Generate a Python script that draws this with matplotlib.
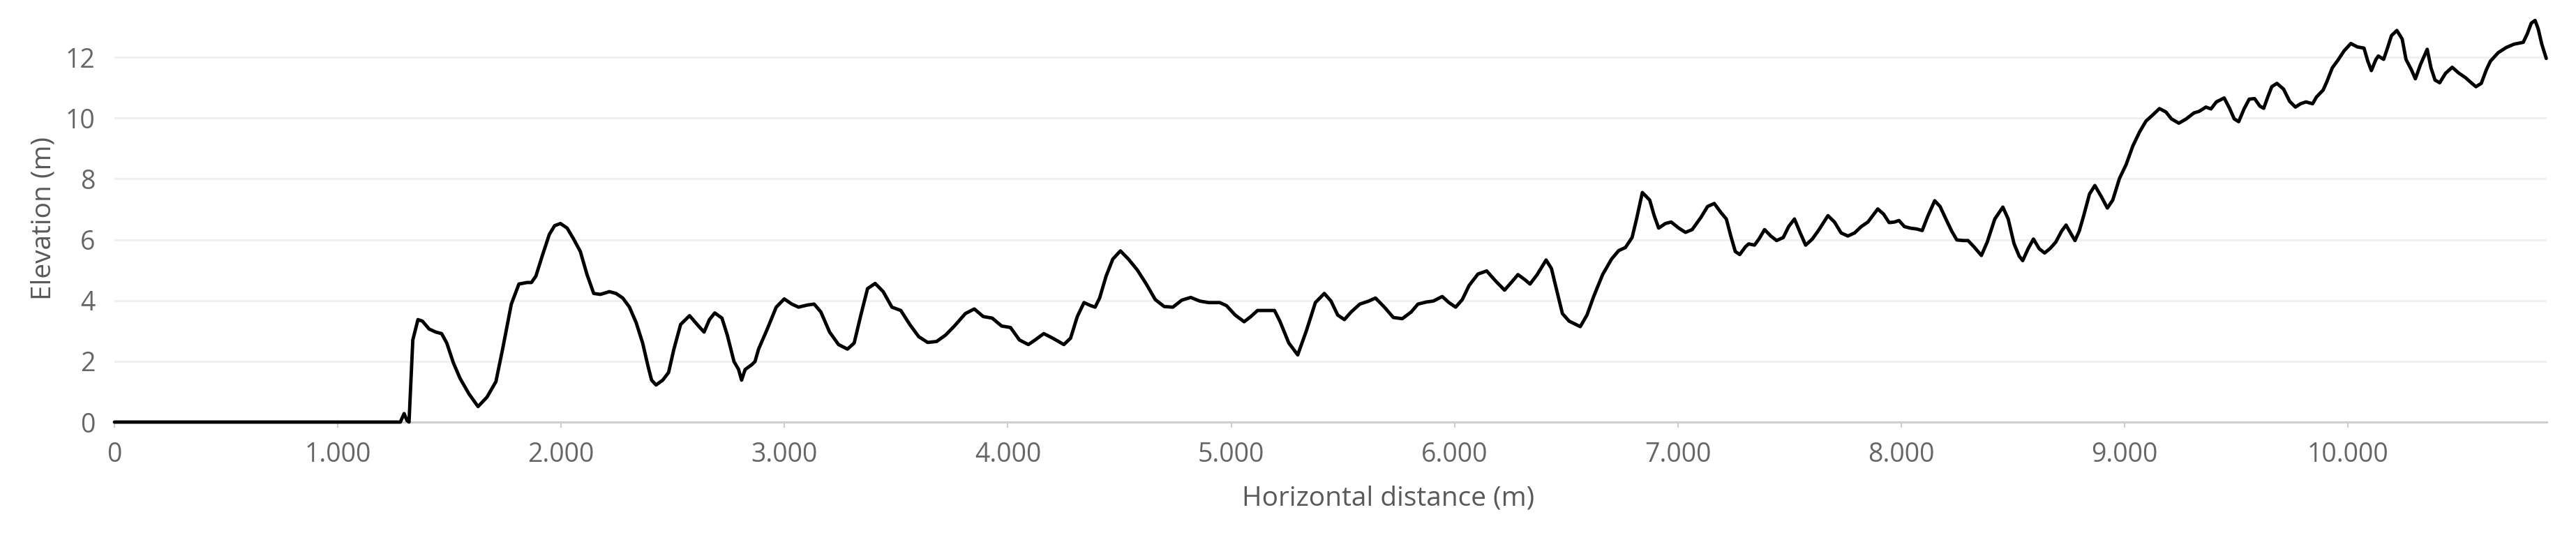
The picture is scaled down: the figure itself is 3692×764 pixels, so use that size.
import matplotlib
matplotlib.use("Agg")
import matplotlib.pyplot as plt
from matplotlib.ticker import FuncFormatter

distance = [0, 1280, 1297, 1310, 1319, 1336, 1359, 1379, 1409, 1439, 1465, 1488, 1518, 1548, 1588,
            1628, 1668, 1708, 1738, 1777, 1811, 1847, 1867, 1887, 1917, 1947, 1971, 1997, 2027,
            2056, 2086, 2116, 2146, 2176, 2216, 2246, 2276, 2306, 2336, 2365, 2389, 2405, 2425,
            2455, 2481, 2505, 2535, 2575, 2615, 2640, 2664, 2688, 2720, 2744, 2774, 2794, 2808,
            2824, 2854, 2868, 2884, 2923, 2963, 2999, 3033, 3063, 3103, 3133, 3163, 3202, 3242,
            3282, 3312, 3342, 3372, 3406, 3442, 3481, 3521, 3561, 3601, 3641, 3681, 3721, 3761,
            3810, 3850, 3890, 3930, 3972, 4012, 4052, 4092, 4122, 4161, 4201, 4251, 4281, 4311,
            4341, 4371, 4391, 4411, 4440, 4470, 4504, 4540, 4580, 4620, 4660, 4700, 4739, 4779,
            4819, 4859, 4899, 4949, 4979, 5018, 5058, 5088, 5118, 5158, 5194, 5218, 5258, 5298,
            5337, 5377, 5417, 5447, 5477, 5507, 5537, 5576, 5616, 5646, 5686, 5726, 5766, 5806,
            5836, 5875, 5905, 5945, 5975, 6005, 6035, 6065, 6105, 6144, 6184, 6224, 6254, 6284,
            6314, 6338, 6370, 6410, 6434, 6454, 6483, 6513, 6563, 6593, 6623, 6663, 6703, 6735,
            6765, 6795, 6815, 6841, 6874, 6894, 6914, 6944, 6970, 7004, 7034, 7064, 7103, 7133,
            7163, 7193, 7217, 7237, 7257, 7277, 7303, 7317, 7343, 7363, 7388, 7416, 7442, 7472,
            7496, 7522, 7548, 7572, 7602, 7632, 7672, 7701, 7731, 7761, 7791, 7821, 7851, 7895,
            7921, 7946, 7970, 7990, 8014, 8040, 8070, 8094, 8120, 8150, 8174, 8200, 8226, 8249,
            8279, 8299, 8325, 8359, 8385, 8419, 8455, 8479, 8505, 8528, 8544, 8568, 8592, 8618,
            8642, 8668, 8692, 8718, 8738, 8758, 8778, 8797, 8817, 8843, 8867, 8897, 8923, 8947,
            8977, 9007, 9037, 9067, 9096, 9126, 9156, 9185, 9210, 9243, 9276, 9311, 9334, 9364,
            9387, 9411, 9446, 9470, 9491, 9511, 9535, 9558, 9582, 9606, 9623, 9641, 9659, 9682,
            9712, 9739, 9765, 9788, 9812, 9842, 9859, 9889, 9906, 9930, 9954, 9983, 10013, 10042,
            10072, 10089, 10105, 10125, 10136, 10160, 10178, 10195, 10219, 10243, 10260, 10284,
            10302, 10325, 10355, 10372, 10390, 10411, 10437, 10467, 10496, 10526, 10549, 10573,
            10597, 10620, 10638, 10673, 10709, 10744, 10785, 10803, 10821, 10838, 10852, 10868,
            10888]
elevation = [0, 0, 0.28, 0.05, 0, 2.7, 3.37, 3.32, 3.06, 2.96, 2.91, 2.6, 1.94, 1.43, 0.92,
             0.51, 0.82, 1.33, 2.4, 3.88, 4.54, 4.59, 4.59, 4.8, 5.5, 6.17, 6.46, 6.53, 6.38,
             6.02, 5.61, 4.85, 4.23, 4.2, 4.29, 4.23, 4.08, 3.78, 3.27, 2.6, 1.84, 1.38, 1.22,
             1.38, 1.63, 2.4, 3.21, 3.5, 3.16, 2.96, 3.37, 3.59, 3.42, 2.86, 1.99, 1.74, 1.38,
             1.73, 1.89, 1.99, 2.4, 3.06, 3.78, 4.05, 3.88, 3.78, 3.85, 3.88, 3.62, 2.96, 2.55,
             2.4, 2.6, 3.52, 4.39, 4.56, 4.29, 3.78, 3.67, 3.21, 2.81, 2.62, 2.65, 2.86, 3.16,
             3.57, 3.72, 3.47, 3.42, 3.16, 3.11, 2.7, 2.55, 2.7, 2.91, 2.76, 2.55, 2.76, 3.47,
             3.93, 3.83, 3.78, 4.08, 4.8, 5.36, 5.63, 5.36, 5.0, 4.54, 4.03, 3.8, 3.78, 4.01,
             4.1, 3.98, 3.93, 3.93, 3.83, 3.52, 3.3, 3.47, 3.67, 3.67, 3.67, 3.32, 2.6, 2.21,
             3.01, 3.93, 4.23, 3.98, 3.52, 3.37, 3.62, 3.88, 3.98, 4.08, 3.78, 3.44, 3.4, 3.62,
             3.88, 3.95, 3.98, 4.13, 3.93, 3.78, 4.03, 4.49, 4.87, 4.97, 4.64, 4.34, 4.59, 4.85,
             4.69, 4.54, 4.85, 5.33, 5.05, 4.44, 3.57, 3.32, 3.14, 3.52, 4.13, 4.85, 5.36, 5.64,
             5.74, 6.07, 6.68, 7.55, 7.3, 6.79, 6.38, 6.53, 6.58, 6.38, 6.24, 6.33, 6.73, 7.09,
             7.19, 6.89, 6.68, 6.12, 5.61, 5.51, 5.77, 5.86, 5.82, 6.02, 6.33, 6.12, 5.97, 6.07,
             6.43, 6.68, 6.22, 5.82, 6.02, 6.33, 6.79, 6.58, 6.22, 6.12, 6.22, 6.43, 6.58, 7.01,
             6.84, 6.56, 6.58, 6.63, 6.43, 6.38, 6.35, 6.3, 6.79, 7.28, 7.09, 6.68, 6.28, 5.99,
             5.97, 5.97, 5.77, 5.48, 5.92, 6.68, 7.07, 6.68, 5.87, 5.46, 5.31, 5.7, 6.02, 5.7,
             5.56, 5.72, 5.92, 6.28, 6.48, 6.22, 5.97, 6.28, 6.79, 7.5, 7.78, 7.4, 7.04, 7.3,
             8.01, 8.47, 9.08, 9.54, 9.9, 10.1, 10.31, 10.2, 9.97, 9.83, 9.97, 10.17, 10.22, 10.36,
             10.3, 10.53, 10.66, 10.32, 9.97, 9.88, 10.3, 10.62, 10.64, 10.39, 10.32, 10.69, 11.03, 11.14,
             10.95, 10.55, 10.36, 10.47, 10.53, 10.47, 10.69, 10.92, 11.2, 11.65, 11.89, 12.21, 12.45, 12.34,
             12.3, 11.87, 11.56, 11.92, 12.04, 11.93, 12.32, 12.71, 12.88, 12.6, 11.93, 11.59,
             11.29, 11.76, 12.26, 11.65, 11.25, 11.16, 11.47, 11.67, 11.48, 11.33, 11.18, 11.03,
             11.14, 11.59, 11.87, 12.15, 12.32, 12.43, 12.49, 12.77, 13.12, 13.21, 12.93, 12.43,
             11.96]

x_ticks = [0, 1000, 2000, 3000, 4000, 5000, 6000, 7000, 8000, 9000, 10000]
y_ticks = [0, 2, 4, 6, 8, 10, 12]
x_label = "Horizontal distance (m)"
y_label = "Elevation (m)"

plt.rcParams['font.family'] = ['Open Sans', 'DejaVu Sans']

fig = plt.figure(figsize=(36.92, 7.64), dpi=100)
ax = fig.add_axes([164 / 3692, 1 - 605 / 764, (3650 - 164) / 3692, (605 - 21) / 764])

ax.plot(distance, elevation, color='black', lw=3.5, solid_joinstyle='round',
        solid_capstyle='round', clip_on=False, zorder=3)

ax.set_xlim(0, 10890)
ax.set_ylim(0, 13.4)
ax.set_xticks(x_ticks)
ax.set_yticks(y_ticks)
ax.xaxis.set_major_formatter(FuncFormatter(lambda v, p: f"{int(v):,}".replace(",", ".")))

for s in ['top', 'right', 'left']:
    ax.spines[s].set_visible(False)
ax.spines['bottom'].set_color('#cfcfcf')
ax.spines['bottom'].set_linewidth(2.2)
ax.spines['bottom'].set_zorder(1)

ax.grid(axis='y', color='#efefef', lw=2.0)
ax.set_axisbelow(True)

ax.tick_params(axis='y', length=0, pad=20, labelsize=27, labelcolor='#666666')
ax.tick_params(axis='x', length=6, width=1.5, color='#cfcfcf', pad=14, labelsize=27,
               labelcolor='#666666')

ax.set_xlabel(x_label, fontsize=28, color='#595959')
ax.set_ylabel(y_label, fontsize=28, color='#595959')
ax.xaxis.set_label_coords((1990 - 164) / 3486, -0.155)
ax.yaxis.set_label_coords((82 - 164) / 3486, 0.5)

fig.savefig("out.png", dpi=100, facecolor='white')
